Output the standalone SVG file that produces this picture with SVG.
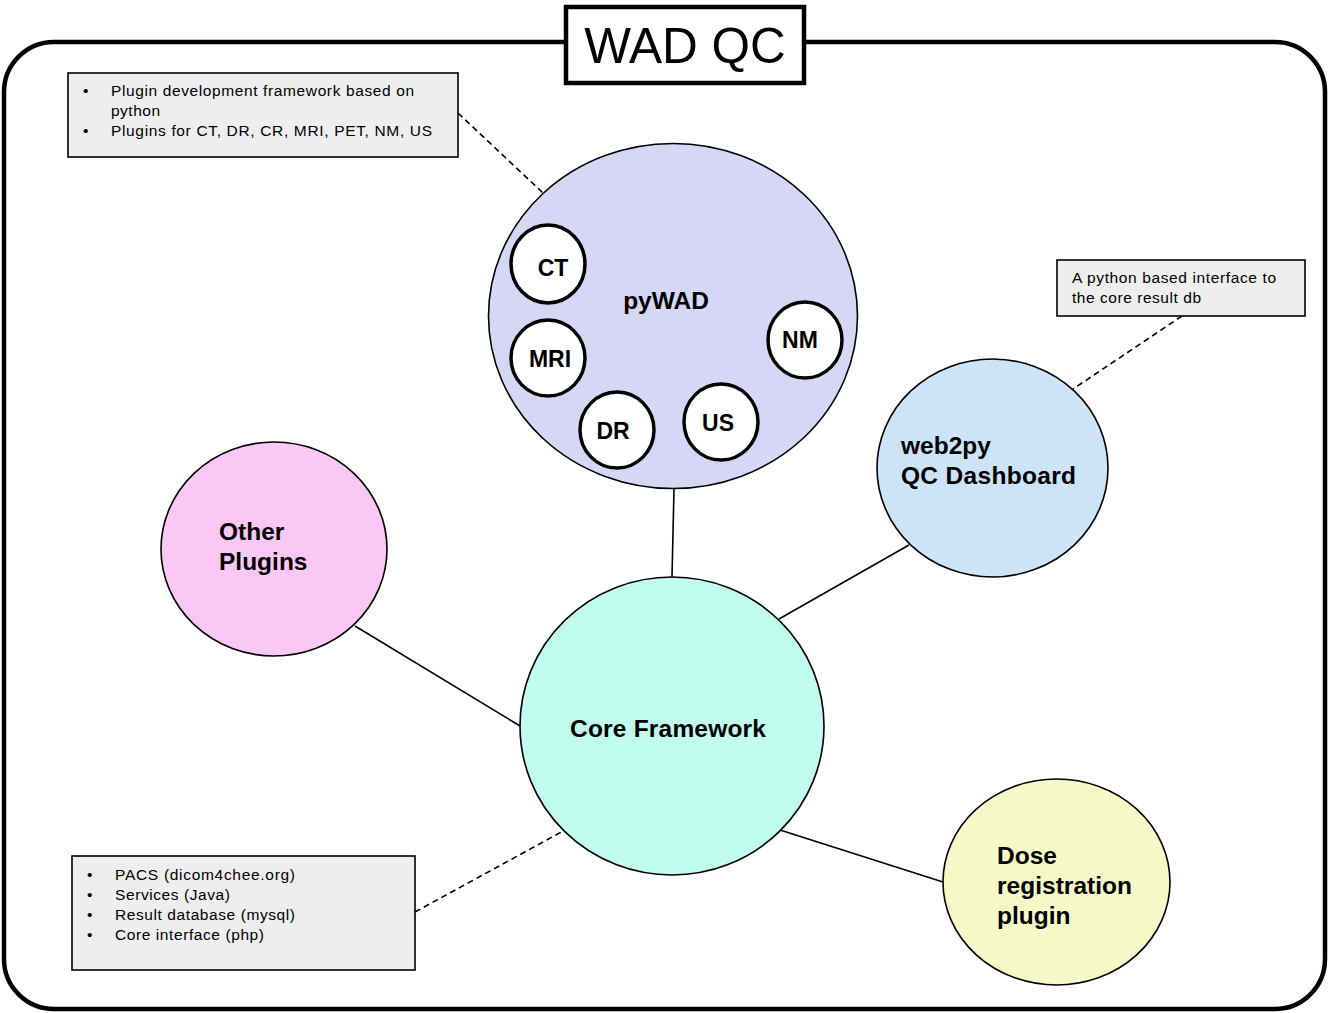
<svg xmlns="http://www.w3.org/2000/svg" width="1329" height="1013" viewBox="0 0 1329 1013">
<style>
.lbl{font-family:"Liberation Sans",Arial,sans-serif;font-weight:bold;font-size:24.5px;fill:#000}
.sm{font-family:"Liberation Sans",Arial,sans-serif;font-weight:bold;font-size:23px;fill:#000}
.note{font-family:"Liberation Sans",Arial,sans-serif;font-size:15.5px;fill:#000}
.big{stroke:#000;stroke-width:1.6}
.plug{fill:#fff;stroke:#000;stroke-width:3.5}
.callout{fill:#eeeeee;stroke:#000;stroke-width:1.6}
.conn{stroke:#000;stroke-width:1.6;fill:none}
.dash{stroke:#000;stroke-width:1.6;fill:none;stroke-dasharray:6 4}
</style>
<rect width="1329" height="1013" fill="#fff"/>
<g id="frame">
<rect x="4" y="42" width="1321" height="967" rx="50" ry="50" fill="#fff" stroke="#000" stroke-width="4.5"/>
</g>
<g id="title">
<rect x="566" y="7" width="238" height="76" fill="#fff" stroke="#000" stroke-width="4.5"/>
<text x="685" y="63" text-anchor="middle" font-family="Liberation Sans, Arial, sans-serif" font-size="49.5">WAD QC</text>
</g>
<g id="connectors">
<line class="conn" x1="674" y1="489" x2="672" y2="577"/>
<line class="conn" x1="779" y1="619" x2="909" y2="545"/>
<line class="conn" x1="355" y1="626" x2="520" y2="726"/>
<line class="conn" x1="780" y1="830" x2="943" y2="882"/>
<line class="dash" x1="458" y1="113" x2="543" y2="193"/>
<line class="dash" x1="1182" y1="316" x2="1073" y2="389"/>
<line class="dash" x1="415" y1="912" x2="565" y2="830"/>
</g>
<g id="pywad">
<ellipse class="big" cx="673" cy="316" rx="184.5" ry="172.5" fill="#d6d7f5"/>
<text class="lbl" x="666" y="309" text-anchor="middle">pyWAD</text>
</g>
<g id="ct">
<ellipse class="plug" cx="548" cy="264" rx="37" ry="39"/>
<text class="sm" x="553" y="276" text-anchor="middle">CT</text>
</g>
<g id="mri">
<ellipse class="plug" cx="548" cy="358" rx="37" ry="38"/>
<text class="sm" x="550" y="367" text-anchor="middle">MRI</text>
</g>
<g id="dr">
<ellipse class="plug" cx="617" cy="430" rx="37" ry="38"/>
<text class="sm" x="613" y="439" text-anchor="middle">DR</text>
</g>
<g id="us">
<ellipse class="plug" cx="721" cy="422" rx="37" ry="38"/>
<text class="sm" x="718" y="431" text-anchor="middle">US</text>
</g>
<g id="nm">
<ellipse class="plug" cx="805" cy="340" rx="37" ry="38"/>
<text class="sm" x="800" y="348" text-anchor="middle">NM</text>
</g>
<g id="other-plugins">
<ellipse class="big" cx="274" cy="549" rx="113" ry="107" fill="#fbc7f4"/>
<text class="lbl" x="219" y="540">Other</text>
<text class="lbl" x="219" y="570">Plugins</text>
</g>
<g id="web2py">
<ellipse class="big" cx="992.500" cy="468" rx="115.500" ry="109" fill="#cde3f8"/>
<text class="lbl" x="901" y="454">web2py</text>
<text class="lbl" x="901" y="484" textLength="175" lengthAdjust="spacing">QC Dashboard</text>
</g>
<g id="core">
<ellipse class="big" cx="672" cy="726" rx="152" ry="149" fill="#c1fbec"/>
<text class="lbl" x="570" y="737" textLength="196" lengthAdjust="spacing">Core Framework</text>
</g>
<g id="dose">
<ellipse class="big" cx="1056.500" cy="882" rx="113.500" ry="103" fill="#f5f9c7"/>
<text class="lbl" x="997" y="864">Dose</text>
<text class="lbl" x="997" y="894" textLength="135" lengthAdjust="spacing">registration</text>
<text class="lbl" x="997" y="924">plugin</text>
</g>
<g id="note-pywad">
<rect class="callout" x="68" y="73" width="390" height="84"/>
<text class="note" x="83" y="96">•</text>
<text class="note" x="111" y="96" textLength="303" lengthAdjust="spacing">Plugin development  framework based on</text>
<text class="note" x="111" y="116" textLength="49" lengthAdjust="spacing">python</text>
<text class="note" x="83" y="136">•</text>
<text class="note" x="111" y="136" textLength="321" lengthAdjust="spacing">Plugins for CT, DR, CR, MRI, PET, NM, US</text>
</g>
<g id="note-web2py">
<rect class="callout" x="1057" y="260" width="248" height="56"/>
<text class="note" x="1072" y="283" textLength="204" lengthAdjust="spacing">A python based interface to</text>
<text class="note" x="1072" y="303" textLength="129" lengthAdjust="spacing">the core result db</text>
</g>
<g id="note-core">
<rect class="callout" x="72" y="856" width="343" height="114"/>
<text class="note" x="87" y="880">•</text>
<text class="note" x="115" y="880" textLength="180" lengthAdjust="spacing">PACS (dicom4chee.org)</text>
<text class="note" x="87" y="900">•</text>
<text class="note" x="115" y="900" textLength="115" lengthAdjust="spacing">Services (Java)</text>
<text class="note" x="87" y="920">•</text>
<text class="note" x="115" y="920" textLength="180" lengthAdjust="spacing">Result database  (mysql)</text>
<text class="note" x="87" y="940">•</text>
<text class="note" x="115" y="940" textLength="149" lengthAdjust="spacing">Core interface (php)</text>
</g>
</svg>
